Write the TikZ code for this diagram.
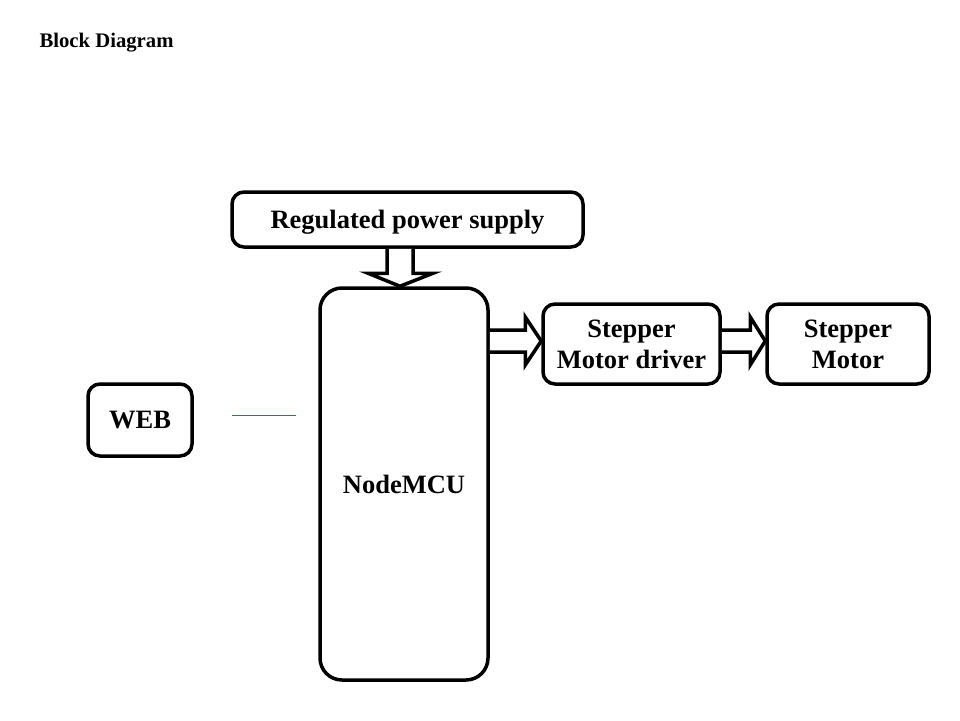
\documentclass[tikz,border=0pt]{standalone}
\usepackage{fontspec}
\setmainfont{Liberation Serif}
\usetikzlibrary{calc}
\definecolor{thinblue}{RGB}{60,100,160}
\begin{document}
\begin{tikzpicture}[x=1pt,y=-1pt,
  blk/.style={draw=black,line width=3.5pt,fill=white,align=center,inner sep=0pt,
    font=\fontsize{26.5}{31}\selectfont\bfseries},
  barrow/.style={draw=black,line width=3.5pt,fill=white,line join=miter}]
\useasboundingbox (0,0) rectangle (960,720);
\node[anchor=west,font=\fontsize{20.7}{23}\selectfont\bfseries] (title) at (36,43) {Block Diagram};
\node[blk,rounded corners=12pt,minimum width=351pt,minimum height=55pt,text depth=0pt] (rps) at (407.5,219.5) {Regulated power supply};
\node[blk,rounded corners=22pt,minimum width=168pt,minimum height=392pt] (mcu) at (404,484) {\raisebox{-3pt}{NodeMCU}};
\node[blk,rounded corners=12pt,minimum width=177pt,minimum height=80pt] (drv) at (631.5,344) {\raisebox{-1.5pt}{Stepper}\\\raisebox{-1.5pt}{Motor driver}};
\node[blk,rounded corners=12pt,minimum width=162pt,minimum height=80pt] (mot) at (848,344) {\raisebox{-1.5pt}{Stepper}\\\raisebox{-1.5pt}{Motor}};
\node[blk,rounded corners=12pt,minimum width=104pt,minimum height=72pt] (web) at (140,420) {WEB};
\coordinate (l1) at (232,415);
\coordinate (l2) at (296,415);
\draw[thinblue,line width=1pt] (l1) -- (l2);
% down arrow
\coordinate (dx) at (400,0);
\draw[barrow] ($(dx |- rps.south)+(-13,0)$) -- ($(dx |- mcu.north)+(-13,-13)$) -- ($(dx |- mcu.north)+(-32,-13)$)
  -- (dx |- mcu.north) -- ($(dx |- mcu.north)+(33,-13)$) -- ($(dx |- mcu.north)+(13,-13)$) -- ($(dx |- rps.south)+(13,0)$);
% right arrow 1
\coordinate (ry) at (0,341);
\draw[barrow] ($(mcu.east |- ry)+(0,-11)$) -- ($(drv.west |- ry)+(-16,-11)$) -- ($(drv.west |- ry)+(-16,-24)$)
  -- (drv.west |- ry) -- ($(drv.west |- ry)+(-16,24)$) -- ($(drv.west |- ry)+(-16,11)$) -- ($(mcu.east |- ry)+(0,11)$);
% right arrow 2
\draw[barrow] ($(drv.east |- ry)+(0,-11)$) -- ($(mot.west |- ry)+(-15,-11)$) -- ($(mot.west |- ry)+(-15,-24)$)
  -- (mot.west |- ry) -- ($(mot.west |- ry)+(-15,24)$) -- ($(mot.west |- ry)+(-15,11)$) -- ($(drv.east |- ry)+(0,11)$);
\end{tikzpicture}
\end{document}
